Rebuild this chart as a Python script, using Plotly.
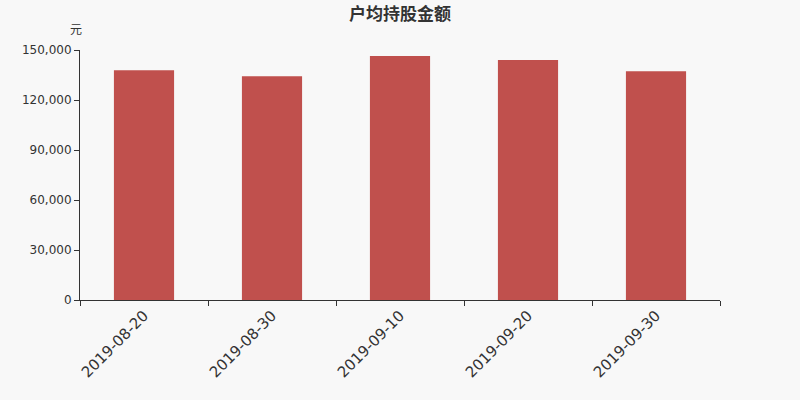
import plotly.graph_objs as go

dates = ['2019-08-20', '2019-08-30', '2019-09-10', '2019-09-20', '2019-09-30']
amounts = [137800, 134200, 146400, 144000, 137200]
y_ticks = [0, 30000, 60000, 90000, 120000, 150000]
y_labels = ['0', '30,000', '60,000', '90,000', '120,000', '150,000']


def main():
    bars = go.Bar(x=dates, y=amounts, marker=dict(color='#c0504d', line_width=0),
                  width=0.47, hoverinfo='x+y')
    fig = go.Figure(bars)
    fig.update_layout(
        width=800, height=400,
        margin=dict(l=80, r=80, t=50, b=100),
        plot_bgcolor='#f8f8f8',
        paper_bgcolor='#f8f8f8',
        font=dict(family='DejaVu Sans', color='#333'),
        title=dict(text='<b>户均持股金额</b>', x=0.5, y=0.965, xanchor='center', yanchor='middle',
                   font=dict(family='Noto Sans CJK SC', size=17, color='#333')),
        showlegend=False,
        annotations=[dict(text='元', xref='paper', yref='paper', x=0.007, y=1.045,
                          xanchor='right', yanchor='bottom', showarrow=False,
                          font=dict(family='Noto Sans CJK SC', size=12, color='#333'))],
    )
    fig.update_xaxes(
        type='category', tickson='boundaries', ticks='outside', ticklen=5,
        tickcolor='#333', showline=True, linecolor='#333', linewidth=1,
        showgrid=False, tickangle=-45, tickfont=dict(size=15, color='#333'),
        range=[-0.5, 4.5],
    )
    fig.update_yaxes(
        range=[0, 150000], tickvals=y_ticks, ticktext=y_labels,
        ticks='outside', ticklen=5, tickcolor='#333', showline=True,
        linecolor='#333', linewidth=1, showgrid=False, zeroline=False,
        tickfont=dict(size=12, color='#333'),
    )
    fig.write_html('out.html', config={'displayModeBar': False},
                   post_script="document.body.style.margin='0';")


if __name__ == '__main__':
    main()
